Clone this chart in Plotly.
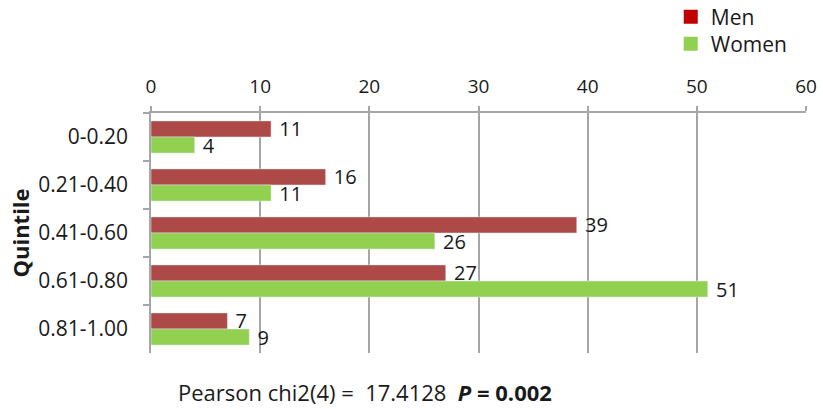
import plotly.graph_objects as go

categories = ["0-0.20", "0.21-0.40", "0.41-0.60", "0.61-0.80", "0.81-1.00"]
men = [11, 16, 39, 27, 7]
women = [4, 11, 26, 51, 9]
x_ticks = [0, 10, 20, 30, 40, 50, 60]

FONT = "Open Sans, Liberation Sans, sans-serif"
TXT = "#1a1a1a"

fig = go.Figure()
fig.add_trace(go.Bar(y=categories, x=men, orientation="h", name="Men",
                     marker=dict(color="#AD4A48"), text=men, textposition="outside",
                     texttemplate="\u00a0%{x}", constraintext="none",
                     textfont=dict(size=20, color=TXT), cliponaxis=False, showlegend=False))
fig.add_trace(go.Bar(y=categories, x=women, orientation="h", name="Women",
                     marker=dict(color="#92D050"), text=women, textposition="outside",
                     texttemplate="\u00a0%{x}", constraintext="none",
                     textfont=dict(size=20, color=TXT), cliponaxis=False, showlegend=False))
# legend entries (legend swatches)
fig.add_trace(go.Scatter(y=[None], x=[None], mode="markers", name="Men", legend="legend",
                         marker=dict(color="#C00000", symbol="square", size=14)))
fig.add_trace(go.Scatter(y=[None], x=[None], mode="markers", name="Women", legend="legend2",
                         marker=dict(color="#92D050", symbol="square", size=14)))

leg_common = dict(xref="container", yref="container", xanchor="left", yanchor="middle",
                  font=dict(size=21, color=TXT), bgcolor="rgba(0,0,0,0)", borderwidth=0)

fig.update_layout(
    width=823, height=409,
    margin=dict(l=151, r=17, t=113, b=56, autoexpand=False),
    paper_bgcolor="white", plot_bgcolor="white",
    barmode="group", bargap=0.33, bargroupgap=0,
    font=dict(family=FONT, size=16, color=TXT),
    showlegend=True,
    legend=dict(x=0.815, y=0.958, **leg_common),
    legend2=dict(x=0.815, y=0.892, **leg_common),
    xaxis=dict(side="top", range=[0, 60], tickvals=x_ticks, showgrid=True,
               gridcolor="#A6A6A6", gridwidth=1.5, zeroline=False,
               showline=True, linecolor="#A6A6A6", linewidth=1.5,
               ticks="outside", ticklen=5, tickcolor="#A6A6A6", tickwidth=1.5,
               ticklabelstandoff=6,
               tickfont=dict(size=19), fixedrange=True),
    yaxis=dict(autorange="reversed", type="category", showline=True,
               linecolor="#A6A6A6", linewidth=1.5, ticks="outside",
               tickson="boundaries", ticklen=6, tickcolor="#A6A6A6", tickwidth=1.5,
               ticklabelstandoff=17,
               tickfont=dict(size=21),
               title=dict(text="<b>Quintile</b>", font=dict(size=22), standoff=3)),
    annotations=[dict(text="Pearson chi2(4) =  17.4128  <b><i>P</i> = 0.002</b>",
                      xref="paper", yref="paper", x=0.327, y=-0.1625,
                      xanchor="center", yanchor="middle", showarrow=False,
                      font=dict(size=22, color=TXT))],
)
fig.write_html("out.html")
